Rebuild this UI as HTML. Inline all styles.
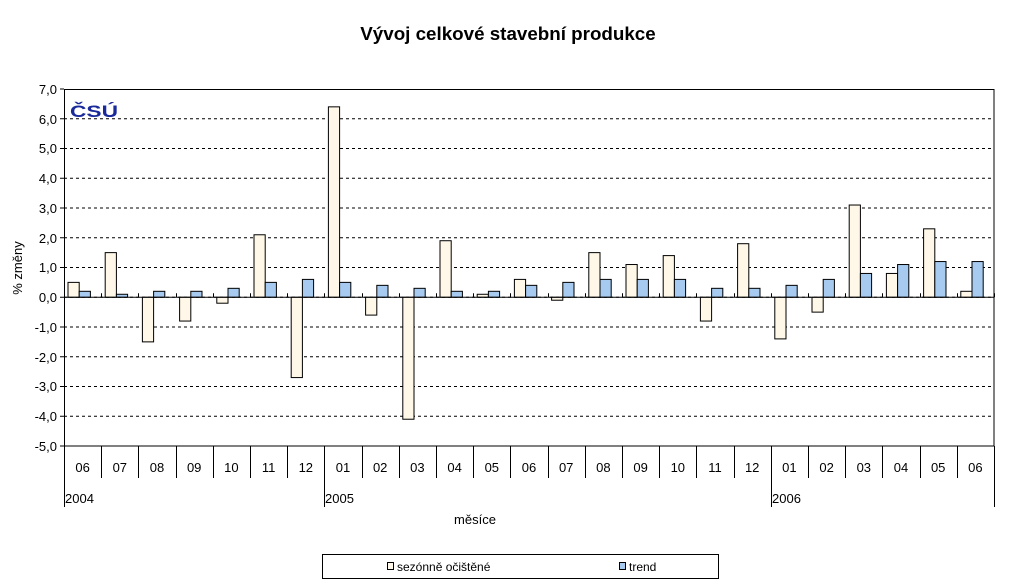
<!DOCTYPE html>
<html><head><meta charset="utf-8"><style>
body{margin:0;background:#fff;}
svg{display:block;font-family:"Liberation Sans",Arial,sans-serif;}
</style></head><body>
<svg id="s" width="1020" height="588" xmlns="http://www.w3.org/2000/svg">
<text x="508" y="40" font-size="18.8" font-weight="bold" text-anchor="middle">Vývoj celkové stavební produkce</text>
<text x="70" y="117" font-size="17" font-weight="900" fill="#1a2a9a" textLength="48" lengthAdjust="spacingAndGlyphs">ČSÚ</text>
<g font-size="13" text-anchor="end">
<text x="57" y="94">7,0</text><text x="57" y="124">6,0</text><text x="57" y="153">5,0</text><text x="57" y="183">4,0</text><text x="57" y="213">3,0</text><text x="57" y="243">2,0</text><text x="57" y="272">1,0</text><text x="57" y="302">0,0</text><text x="57" y="332">-1,0</text><text x="57" y="362">-2,0</text><text x="57" y="391">-3,0</text><text x="57" y="421">-4,0</text><text x="57" y="451">-5,0</text>
</g>
<text transform="translate(22,268) rotate(-90)" font-size="13" text-anchor="middle">% změny</text>
<text x="475" y="524" font-size="13" text-anchor="middle">měsíce</text>
<g font-size="13" text-anchor="middle" id="months">
<text x="82.6" y="472">06</text><text x="119.8" y="472">07</text><text x="157" y="472">08</text><text x="194.2" y="472">09</text><text x="231.4" y="472">10</text><text x="268.6" y="472">11</text><text x="305.8" y="472">12</text><text x="343" y="472">01</text><text x="380.2" y="472">02</text><text x="417.4" y="472">03</text><text x="454.6" y="472">04</text><text x="491.8" y="472">05</text><text x="529" y="472">06</text><text x="566.2" y="472">07</text><text x="603.4" y="472">08</text><text x="640.6" y="472">09</text><text x="677.8" y="472">10</text><text x="715" y="472">11</text><text x="752.2" y="472">12</text><text x="789.4" y="472">01</text><text x="826.6" y="472">02</text><text x="863.8" y="472">03</text><text x="901" y="472">04</text><text x="938.2" y="472">05</text><text x="975.4" y="472">06</text>
</g>
<g font-size="13">
<text x="65" y="503">2004</text><text x="325" y="503">2005</text><text x="772" y="503">2006</text>
</g>
<rect x="322.5" y="554.5" width="396" height="24" fill="#fff" stroke="#000"/>
<rect x="387.5" y="562.5" width="6" height="7" fill="#fff8e8" stroke="#000"/>
<text x="397" y="571" font-size="12">sezónně očištěné</text>
<rect x="619.5" y="562.5" width="6" height="7" fill="#a6caf0" stroke="#000"/>
<text x="629" y="571" font-size="12">trend</text>
<g id="g"></g>
</svg>
<script>
var g=document.getElementById('g'),h='';
var y0=89,k=29.75,z=89+7*k,x0=64,w=37.2;
for(var i=1;i<12;i++){h+='<line x1="64" x2="994" y1="'+(y0+i*k)+'" y2="'+(y0+i*k)+'" stroke="#000" stroke-dasharray="3,3" stroke-width="1"/>';}
var a=[[0.5,0.2],[1.5,0.1],[-1.5,0.2],[-0.8,0.2],[-0.2,0.3],[2.1,0.5],[-2.7,0.6],[6.4,0.5],[-0.6,0.4],[-4.1,0.3],[1.9,0.2],[0.1,0.2],[0.6,0.4],[-0.1,0.5],[1.5,0.6],[1.1,0.6],[1.4,0.6],[-0.8,0.3],[1.8,0.3],[-1.4,0.4],[-0.5,0.6],[3.1,0.8],[0.8,1.1],[2.3,1.2],[0.2,1.2]];
function bar(x,v,c){var yy=v>=0?z-v*k:z,hh=Math.abs(v)*k;return '<rect x="'+x+'" y="'+yy+'" width="11.2" height="'+hh+'" fill="'+c+'" stroke="#000" stroke-width="1"/>';}
a.forEach(function(d,i){var x=x0+i*w+4;h+=bar(x,d[0],'#fff8e8');h+=bar(x+11.2,d[1],'#a6caf0');});
h+='<rect x="64.5" y="89.5" width="929.5" height="356.5" fill="none" stroke="#000"/>';
h+='<line x1="64" x2="994" y1="'+z+'" y2="'+z+'" stroke="#000"/>';
for(var i=0;i<=25;i++){var x=Math.round(x0+i*w)+0.5;h+='<line x1="'+x+'" x2="'+x+'" y1="'+(z-4)+'" y2="'+z+'" stroke="#000"/>';var yb=(i==0||i==7||i==19||i==25)?507:478;h+='<line x1="'+x+'" x2="'+x+'" y1="446" y2="'+yb+'" stroke="#000"/>';}
for(var j=0;j<=12;j++){h+='<line x1="60" x2="64" y1="'+(y0+j*k)+'" y2="'+(y0+j*k)+'" stroke="#000"/>';}
g.innerHTML=h;
</script>
</body></html>
